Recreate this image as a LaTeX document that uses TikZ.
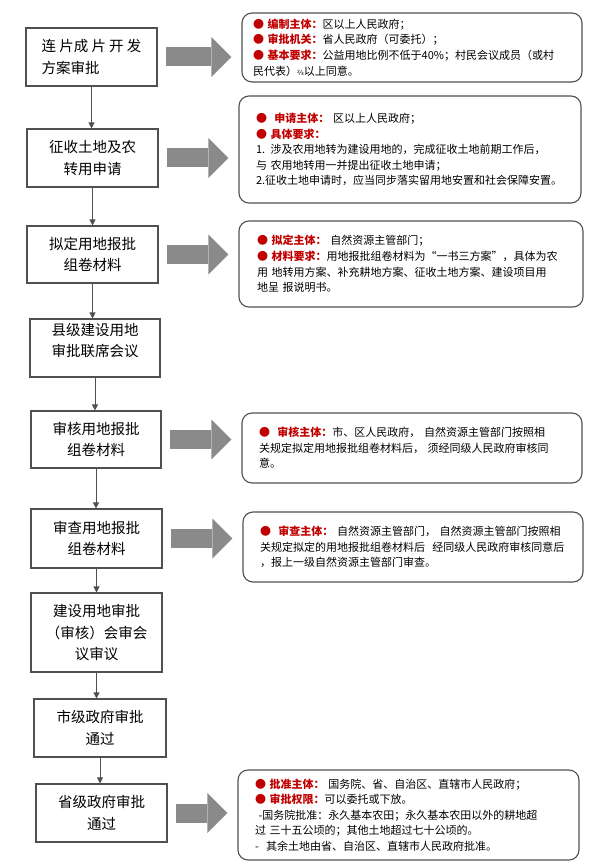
\documentclass[tikz,border=0pt]{standalone}
\usepackage{fontspec}
\setmainfont{Noto Sans CJK SC}
\newfontfamily\symfont{DejaVu Sans}
\usepackage{xcolor}
\usetikzlibrary{arrows.meta}

\definecolor{labelred}{HTML}{C00000}
\definecolor{boxline}{HTML}{505050}
\definecolor{fatgray}{HTML}{8A8A8A}
\newcommand{\bul}{{\color{labelred}●}}
\newcommand{\lbl}[1]{{\color{labelred}\bfseries #1}}

\tikzset{
  stepbox/.style={draw=boxline, line width=1.1pt, align=center, inner sep=0pt,
    font=\fontsize{14.5}{21.5}\selectfont},
  notebox/.style={draw=boxline, rounded corners=10pt, line width=1.1pt, align=left,
    inner ysep=0pt, font=\fontsize{11}{15.6}\selectfont},
  flow/.style={->, draw=boxline, line width=0.8pt},
  fatarrow/.style={line width=19pt, fatgray,
    -{Triangle[width=40pt,length=20pt,line width=0pt]},
    shorten <=8pt, shorten >=10pt},
}

\begin{document}
\begin{tikzpicture}[>={Triangle[width=6pt,length=6pt]}, x=1pt, y=-1pt]
        \useasboundingbox (0,0) rectangle (590,866);
        % process steps
        \node[stepbox, minimum width=131pt, minimum height=58pt] (plan) at (91.5,57) {连 片成 片 开 发\\\hspace*{0pt}方案审批\hfill\hbox{}};
        \node[stepbox, minimum width=131pt, minimum height=58pt] (apply) at (92.5,158) {征收土地及农\\转用申请};
        \node[stepbox, minimum width=131pt, minimum height=57pt] (draft) at (92.5,254.5) {拟定用地报批\\组卷材料};
        \node[stepbox, minimum width=130pt, minimum height=58pt] (county) at (95,348) {县级建设用地\\审批联席会议\\[-5pt]~};
        \node[stepbox, minimum width=130pt, minimum height=57pt] (verify) at (96,439.5) {审核用地报批\\组卷材料};
        \node[stepbox, minimum width=131pt, minimum height=59pt] (check) at (96.5,538.5) {审查用地报批\\组卷材料};
        \node[stepbox, minimum width=131pt, minimum height=79pt] (meeting) at (96.5,632.5) {建设用地审批\\（审核）会审会\\议审议};
        \node[stepbox, minimum width=132pt, minimum height=58pt] (city) at (100,728) {市级政府审批\\通过};
        \node[stepbox, minimum width=131pt, minimum height=58pt] (province) at (101.5,813) {省级政府审批\\通过};

        % notes
        \node[notebox, inner xsep=11pt, text width=318pt, minimum height=69pt] (planinfo) at (412,47.5) {%
          \bul\ \lbl{编制主体：}区以上人民政府；\\
          \bul\ \lbl{审批机关：}省人民政府（可委托）；\\
          \bul\ \lbl{基本要求：}公益用地比例不低于40\%；村民会议成员（或村\\
          民代表）{\symfont\scriptsize ⅔}以上同意。};
        \node[notebox, inner xsep=17pt, text width=308pt, minimum height=107pt] (applyinfo) at (410,149.5) {%
          \bul\ \ \lbl{申请主体：}\ 区以上人民政府；\\
          \bul\ \lbl{具体要求：}\\
          1. 涉及农用地转为建设用地的，完成征收土地前期工作后，\\
          与 农用地转用一并提出征收土地申请；\\
          2.征收土地申请时，应当同步落实留用地安置和社会保障安置。};
        \node[notebox, inner xsep=18pt, text width=308pt, minimum height=86pt] (draftinfo) at (411,264) {%
          \bul\ \lbl{拟定主体：}\ 自然资源主管部门；\\
          \bul\ \lbl{材料要求：}用地报批组卷材料为“一书三方案”，具体为农\\
          用 地转用方案、补充耕地方案、征收土地方案、建设项目用\\
          地呈 报说明书。};
        \node[notebox, inner xsep=17pt, text width=306pt, minimum height=70pt] (verifyinfo) at (412,448) {%
          \bul\ \ \lbl{审核主体：}市、区人民政府，\ 自然资源主管部门按照相\\
          关规定拟定用地报批组卷材料后，\ 须经同级人民政府审核同\\
          意。};
        \node[notebox, inner xsep=17pt, text width=306pt, minimum height=70pt] (checkinfo) at (413,547) {%
          \bul\ \ \lbl{审查主体：}\ 自然资源主管部门，\ 自然资源主管部门按照相\\
          关规定拟定的用地报批组卷材料后\ \ 经同级人民政府审核同意后\\
          ，报上一级自然资源主管部门审查。};
        \node[notebox, inner xsep=17pt, text width=307pt, minimum height=90pt] (provinceinfo) at (408.5,815) {%
          \bul\ \lbl{批准主体：}\ 国务院、省、自治区、直辖市人民政府；\\
          \bul\ \lbl{审批权限：}可以委托或下放。\\
          \ -国务院批准：永久基本农田；永久基本农田以外的耕地超\\
          过 三十五公顷的；其他土地超过七十公顷的。\\
          -\ \ 其余土地由省、自治区、直辖市人民政府批准。};

        % flow down
        \draw[flow] (plan) -- (plan |- apply.north);
        \draw[flow] (apply) -- (apply |- draft.north);
        \draw[flow] (draft) -- (draft |- county.north);
        \draw[flow] (county) -- (county |- verify.north);
        \draw[flow] (verify) -- (verify |- check.north);
        \draw[flow] (check) -- (check |- meeting.north);
        \draw[flow] (meeting) -- (meeting |- city.north);
        \draw[flow] (city) -- (city |- province.north);

        % fat arrows to the notes
        \draw[fatarrow] (plan) -- (plan -| planinfo.west);
        \draw[fatarrow] (apply) -- (apply -| applyinfo.west);
        \draw[fatarrow] (draft) -- (draft -| draftinfo.west);
        \draw[fatarrow] (verify) -- (verify -| verifyinfo.west);
        \draw[fatarrow] (check) -- (check -| checkinfo.west);
        \draw[fatarrow] (province) -- (province -| provinceinfo.west);
    \end{tikzpicture}
\end{document}
